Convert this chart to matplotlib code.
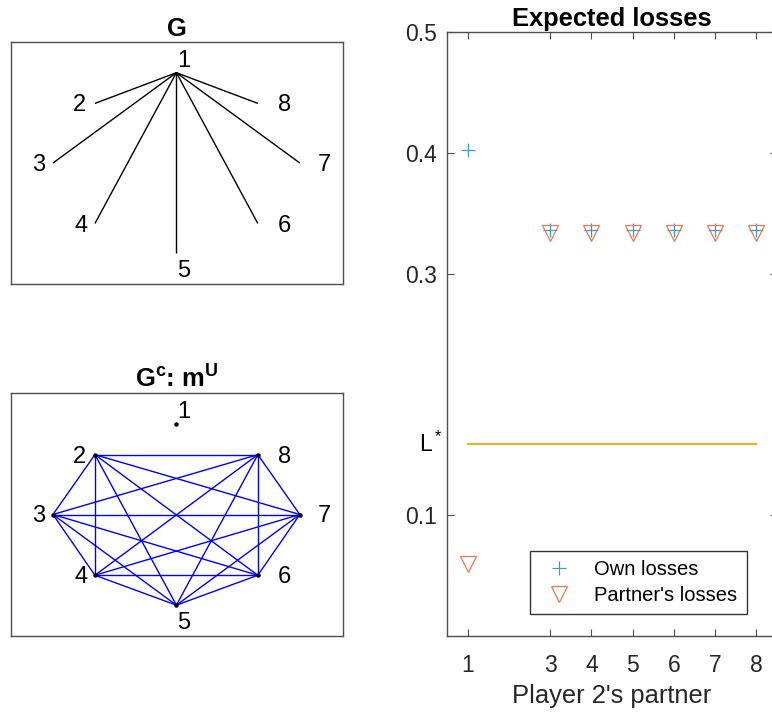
import matplotlib
matplotlib.use("Agg")
import matplotlib.pyplot as plt

plt.rcParams["font.family"] = ["Liberation Sans", "DejaVu Sans"]
plt.rcParams["mathtext.fontset"] = "custom"
plt.rcParams["mathtext.rm"] = "Liberation Sans"
plt.rcParams["mathtext.it"] = "Liberation Sans"
plt.rcParams["mathtext.bf"] = "Liberation Sans:bold"

# ---- data ----
nodes = [1, 2, 3, 4, 5, 6, 7, 8]
node_x = [0.0, -0.66, -1.0, -0.66, 0.0, 0.66, 1.0, 0.66]
node_y = [1.0, 0.66, 0.0, -0.67, -1.0, -0.67, 0.0, 0.66]
# label offsets (pixels) for node labels
label_dx = [7, -15, -14, -14, 7, 27, 25, 27]
label_dy = [12, -2, -2, -2, -18, -2, -2, -2]

edges_G = [(1, 2), (1, 3), (1, 4), (1, 5), (1, 6), (1, 7), (1, 8)]
edges_Gc = [(a, b) for a in range(2, 9) for b in range(a + 1, 9)]

partners = [1, 3, 4, 5, 6, 7, 8]
own_losses = [0.402, 0.336, 0.336, 0.336, 0.336, 0.336, 0.336]
partner_losses = [0.060, 0.334, 0.334, 0.334, 0.334, 0.334, 0.334]
L_star = 0.159
yticks = [0.1, 0.3, 0.4, 0.5]
ytick_labels = ["0.1", "0.3", "0.4", "0.5"]

W, H = 772, 715
fig = plt.figure(figsize=(W / 100, H / 100), dpi=100)

def px_axes(x0, y0, x1, y1):
    return fig.add_axes([x0 / W, 1 - y1 / H, (x1 - x0) / W, (y1 - y0) / H])

spine_col = "#4d4d4d"
text_col = "#262626"
title_fs = 18.4
tick_fs = 16.5

def draw_graph(ax, edges, color, show_dots, title):
    for a, b in edges:
        ax.plot([node_x[a - 1], node_x[b - 1]], [node_y[a - 1], node_y[b - 1]],
                color=color, lw=1.0, solid_capstyle="butt")
    if show_dots:
        ax.plot(node_x, node_y, "o", color="black", ms=2.2, ls="none")
    else:
        ax.plot(node_x[0], node_y[0], "o", color="black", ms=1.0, ls="none")
    for i, n in enumerate(nodes):
        ax.annotate(str(n), (node_x[i], node_y[i]),
                    xytext=(label_dx[i], label_dy[i]), textcoords="offset pixels",
                    ha="center", va="center", fontsize=17, color="black")
    ax.set_xlim(-1.34, 1.35)
    ax.set_ylim(-1.34, 1.34)
    ax.set_xticks([])
    ax.set_yticks([])
    for s in ax.spines.values():
        s.set_color(spine_col)
        s.set_linewidth(1.0)
    ax.set_title(title, fontsize=title_fs, fontweight="bold", pad=4, color="black")

ax1 = px_axes(11, 42, 343, 284)
draw_graph(ax1, edges_G, "black", False, "G")

ax2 = px_axes(11, 393, 343, 636)
draw_graph(ax2, edges_Gc, "#0000ff", True,
           r"G$^{\mathbf{c}}$: m$^{\mathbf{U}}$")

# ---- expected losses ----
ax3 = px_axes(447, 32, 777, 636)
ax3.plot(partners, own_losses, "+", color="#3d98da", ms=10, mew=0.9,
         ls="none", label="Own losses")
ax3.plot(partners, partner_losses, "v", mfc="none", mec="#e47a55", ms=11,
         mew=0.9, ls="none", label="Partner's losses")
ax3.plot([partners[0], partners[-1]], [L_star, L_star], color="#EDB120", lw=1.5)

ax3.set_xlim(0.5, 8.5)
ax3.set_ylim(0, 0.5)
ax3.set_xticks(partners)
ax3.set_yticks(yticks)
ax3.set_yticklabels(ytick_labels)
ax3.tick_params(direction="in", length=5, width=0.8, colors=spine_col,
                labelcolor=text_col, labelsize=tick_fs, top=True, right=True)
ax3.tick_params(axis="x", pad=13)
ax3.tick_params(axis="y", pad=7)
ax3.text(-0.012, L_star, r"L$^*$", transform=ax3.get_yaxis_transform(),
         ha="right", va="center", fontsize=tick_fs, color="black")
for s in ax3.spines.values():
    s.set_color(spine_col)
    s.set_linewidth(1.0)
ax3.set_title("Expected losses", fontsize=title_fs, fontweight="bold", pad=4)
ax3.set_xlabel("Player 2's partner", fontsize=title_fs, color=text_col, labelpad=5)

leg = ax3.legend(loc="upper left", bbox_to_anchor=(530 / W, 1 - 551 / H),
                 bbox_transform=fig.transFigure, fontsize=14.5, frameon=True,
                 fancybox=False, edgecolor="black", handlelength=2.0,
                 handletextpad=0.75, borderpad=0.45, labelspacing=0.35,
                 borderaxespad=0)
leg.get_frame().set_linewidth(1.0)

fig.savefig("out.png", dpi=100)
